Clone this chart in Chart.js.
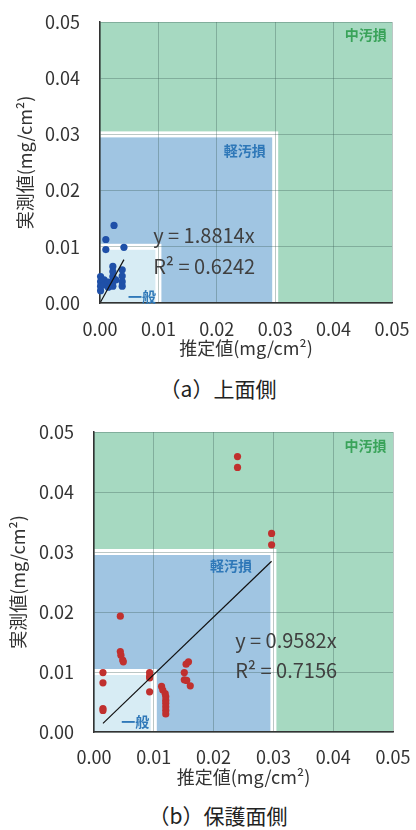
<!DOCTYPE html>
<html lang="ja">
<head>
<meta charset="utf-8">
<script src="https://cdn.jsdelivr.net/npm/chart.js@4.4.1/dist/chart.umd.min.js"></script>
<style>
  body { margin: 0; background: #fff; width: 416px; height: 830px; position: relative; overflow: hidden; font-family: "Noto Sans CJK JP", sans-serif; }
  .box { position: absolute; left: 0; width: 416px; }
  .caption { position: absolute; left: 10px; width: 416px; text-align: center; font-size: 21px; line-height: 28px; color: #222; }
</style>
</head>
<body>
<div class="box" style="top:0"><canvas id="chartTop" width="416" height="362"></canvas></div>
<div class="caption" style="top:374px">（a）上面側</div>
<div class="box" style="top:410px"><canvas id="chartProt" width="416" height="380"></canvas></div>
<div class="caption" style="top:801px">（b）保護面側</div>
<script>
// 目盛
const tickLabels = ['0.00', '0.01', '0.02', '0.03', '0.04', '0.05'];

// 区分（一般 / 軽汚損 / 中汚損）
const zoneNames = ['一般', '軽汚損', '中汚損'];
const zoneLimits = [0.01, 0.03];

// (a) 上面側
const topX = [0.0001, 0.0001, 0.0001, 0.0001, 0.0007, 0.0007, 0.0010, 0.0010, 0.0014, 0.0014, 0.0022,
              0.0022, 0.0022, 0.0022, 0.0022, 0.0024, 0.0027, 0.0038, 0.0038, 0.0038, 0.0038, 0.0041];
const topY = [0.0047, 0.0038, 0.0030, 0.0022, 0.0041, 0.0032, 0.0113, 0.0095, 0.0037, 0.0028, 0.0065,
              0.0056, 0.0047, 0.0038, 0.0030, 0.0138, 0.0041, 0.0059, 0.0048, 0.0038, 0.0030, 0.0099];
const topSlope = 1.8814;
const topR2 = 0.6242;

// (b) 保護面側
const protX = [0.0240, 0.0240, 0.0297, 0.0297, 0.0044, 0.0044, 0.0045, 0.0048, 0.0049, 0.0015, 0.0015,
               0.0015, 0.0015, 0.0093, 0.0093, 0.0093, 0.0093, 0.0113, 0.0115, 0.0119, 0.0120, 0.0120,
               0.0120, 0.0120, 0.0120, 0.0120, 0.0158, 0.0154, 0.0151, 0.0151, 0.0155, 0.0161];
const protY = [0.0459, 0.0441, 0.0331, 0.0312, 0.0193, 0.0134, 0.0128, 0.0120, 0.0117, 0.0099, 0.0082,
               0.0039, 0.0036, 0.0099, 0.0093, 0.0090, 0.0067, 0.0076, 0.0070, 0.0064, 0.0059, 0.0053,
               0.0048, 0.0042, 0.0036, 0.0030, 0.0117, 0.0113, 0.0099, 0.0087, 0.0086, 0.0077];
const protSlope = 0.9582;
const protR2 = 0.7156;

const FONT = '"Noto Sans CJK JP", "Noto Sans", sans-serif';
const zoneColors = ['#d7ecf4', '#a0c5e2', '#a6d9c1'];
const zoneTextColors = ['#2f78b8', '#2f78b8', '#3aa35a'];

// 背景の区分と文字
const zonePlugin = {
  id: 'zones',
  beforeDraw(chart) {
    const { ctx, chartArea: a, scales: { x, y } } = chart;
    const gap = 3;
    ctx.save();
    ctx.fillStyle = zoneColors[2];
    ctx.fillRect(a.left, a.top, a.width, a.height);
    [1, 0].forEach(i => {
      const px = x.getPixelForValue(zoneLimits[i]);
      const py = y.getPixelForValue(zoneLimits[i]);
      ctx.fillStyle = '#fff';
      ctx.fillRect(a.left, py - gap, px + gap - a.left, a.bottom - py + gap);
      ctx.fillStyle = zoneColors[i];
      ctx.fillRect(a.left, py + gap, px - gap - a.left, a.bottom - py - gap);
    });
    ctx.restore();
  },
  afterDatasetsDraw(chart, args, opts) {
    const { ctx, scales: { x, y } } = chart;
    ctx.save();
    ctx.textBaseline = 'middle';
    ctx.textAlign = 'center';
    ctx.font = 'bold 14px ' + FONT;
    opts.labelPos.forEach((p, i) => {
      ctx.fillStyle = zoneTextColors[i];
      ctx.fillText(zoneNames[i], x.getPixelForValue(p[0]), y.getPixelForValue(p[1]));
    });
    ctx.textAlign = 'left';
    ctx.font = '20px ' + FONT;
    ctx.fillStyle = '#404040';
    const e = opts.eqPos;
    ctx.fillText('y = ' + opts.slope.toFixed(4) + 'x', x.getPixelForValue(e[0]), y.getPixelForValue(e[1]));
    ctx.fillText('R² = ' + opts.r2.toFixed(4), x.getPixelForValue(e[0]), y.getPixelForValue(e[2]));
    ctx.restore();
  }
};

function makeChart(id, xs, ys, slope, r2, color, layout) {
  const pts = xs.map((v, i) => ({ x: v, y: ys[i] }));
  const x0 = Math.min(...xs), x1 = Math.max(...xs);
  const trend = [{ x: x0, y: slope * x0 }, { x: x1, y: slope * x1 }];
  const axis = (title, titlePad) => ({
    type: 'linear', min: 0, max: 0.05,
    grid: { color: 'rgba(60,95,90,0.35)', lineWidth: 1, drawTicks: false },
    border: { color: '#333', width: 1.5 },
    ticks: {
      stepSize: 0.01, color: '#333', font: { family: FONT, size: 18 },
      padding: layout.tickPad, maxRotation: 0, autoSkip: false,
      callback: (v, i) => tickLabels[i]
    },
    title: { display: true, text: title, color: '#333', font: { family: FONT, size: 18 }, padding: titlePad }
  });
  const xAxis = axis('推定値(mg/cm²)', { top: 0, bottom: layout.xTitlePad });
  xAxis.afterFit = s => { s.height = layout.xHeight; s.paddingLeft = 0; s.paddingRight = 0; };
  const yAxis = axis('実測値(mg/cm²)', { top: layout.yTitlePad, bottom: 0 });
  yAxis.ticks.padding = 20;
  yAxis.afterFit = s => { s.width = layout.yWidth; s.paddingTop = 0; s.paddingBottom = 0; };

  return new Chart(document.getElementById(id), {
    type: 'scatter',
    data: {
      datasets: [
        { type: 'line', data: trend, borderColor: '#111', borderWidth: 1.2, pointRadius: 0, fill: false },
        { data: pts, backgroundColor: color, borderWidth: 0, pointRadius: 3.6, clip: false }
      ]
    },
    options: {
      responsive: false,
      animation: false,
      devicePixelRatio: 1,
      layout: { padding: { top: 22, right: layout.right, left: 0, bottom: 0 } },
      scales: { x: xAxis, y: yAxis },
      plugins: {
        legend: { display: false },
        tooltip: { enabled: false },
        zones: { labelPos: layout.labelPos, eqPos: layout.eqPos, slope, r2 }
      }
    },
    plugins: [zonePlugin]
  });
}

makeChart('chartTop', topX, topY, topSlope, topR2, '#1f50a8', {
  right: 24, yWidth: 100, xHeight: 59, tickPad: 15, xTitlePad: 3, yTitlePad: 14,
  labelPos: [[0.0072, 0.0011], [0.0248, 0.0271], [0.0455, 0.0477]],
  eqPos: [0.0091, 0.0121, 0.0066]
});

makeChart('chartProt', protX, protY, protSlope, protR2, '#c0302e', {
  right: 23, yWidth: 94, xHeight: 58, tickPad: 14, xTitlePad: 2.5, yTitlePad: 7,
  labelPos: [[0.0069, 0.0017], [0.0229, 0.0277], [0.0454, 0.0478]],
  eqPos: [0.0236, 0.0153, 0.0102]
});
</script>
</body>
</html>
